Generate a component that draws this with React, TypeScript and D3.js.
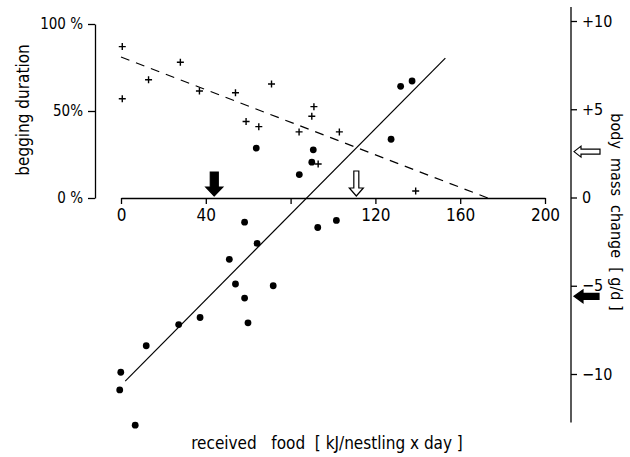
import React, { useEffect, useRef } from 'react';
import * as d3 from 'd3';

// begging duration (%) vs received food (kJ/nestling x day)
const beggingFood = [0.6, 0.6, 13, 28, 37, 54, 71, 59, 65, 84, 91, 90, 93, 103, 139];
const beggingPct = [87, 57, 68, 78, 61.5, 60.5, 65.5, 44, 41, 38, 52.5, 47, 19.5, 38, 4];

// body mass change (g/d) vs received food
const massFood = [63.8, 90.7, 90, 84.1, 131.9, 137.3, 127.4, 58.3, 92.8, 101.6, 64.2, 51.1, 54, 71.8, 58.3, 59.9, 37.3, 27.2, 11.9, -0.1, -0.6, 6.7];
const massChange = [2.8, 2.7, 2.0, 1.3, 6.3, 6.6, 3.3, -1.4, -1.7, -1.3, -2.6, -3.5, -4.9, -5.0, -5.7, -7.1, -6.8, -7.2, -8.4, -9.9, -10.9, -12.9];

// regression lines [food, value]
const beggingFit = [[0, 81], [173, 0]];
const massFit = [[2, -10.4], [153, 7.9]];

const xTicks = [0, 40, 80, 120, 160, 200];
const xTickLabels = ['0', '40', '', '120', '160', '200'];
const leftTicks = [0, 50, 100];
const leftTickLabels = ['0 %', '50%', '100 %'];
const rightTicks = [-10, -5, 0, 5, 10];
const rightTickLabels = ['\u221210', '\u22125', '0', '+5', '+10'];
const rightAxisExtent = [-12.75, 10.8];

// arrows: food value on x axis, mass value on right axis
const foodArrows = [{ value: 44, fill: '#000' }, { value: 111, fill: '#fff' }];
const massArrows = [{ value: 2.6, fill: '#fff' }, { value: -5.6, fill: '#000' }];

const FONT = "'DejaVu Sans Condensed', 'DejaVu Sans', sans-serif";

export default function App() {
  const ref = useRef<SVGSVGElement>(null);

  useEffect(() => {
    const svg = d3.select(ref.current);
    svg.selectAll('*').remove();

    const x = d3.scaleLinear().domain([0, 200]).range([121, 545]);
    const yL = d3.scaleLinear().domain([0, 100]).range([198, 24]);
    const yR = d3.scaleLinear().domain([-10, 10]).range([374, 21]);

    const axisX = 95, axisR = 571;

    // left axis
    const left = svg.append('g')
      .attr('transform', `translate(${axisX},0)`)
      .call(d3.axisLeft(yL).tickValues(leftTicks).tickSize(7).tickSizeOuter(0).tickPadding(5)
        .tickFormat((d, i) => leftTickLabels[i]));

    // bottom axis
    const bottom = svg.append('g')
      .attr('transform', `translate(0,${yL(0)})`)
      .call(d3.axisBottom(x).tickValues(xTicks).tickSize(6).tickSizeOuter(0).tickPadding(5)
        .tickFormat((d, i) => xTickLabels[i]));

    // right axis
    const right = svg.append('g')
      .attr('transform', `translate(${axisR},0)`)
      .call(d3.axisRight(yR).tickValues(rightTicks).tickSize(6).tickSizeOuter(0).tickPadding(5)
        .tickFormat((d, i) => rightTickLabels[i]));
    right.select('.domain').remove();
    right.append('line')
      .attr('y1', yR(rightAxisExtent[0])).attr('y2', yR(rightAxisExtent[1]))
      .attr('stroke', '#000');

    [left, bottom, right].forEach(g => {
      g.selectAll('path, line').attr('stroke', '#000').attr('stroke-width', 1.3);
      g.selectAll('text').attr('font-family', FONT).attr('fill', '#000');
    });
    left.selectAll('text').attr('font-size', 15);
    right.selectAll('text').attr('font-size', 16);
    bottom.selectAll('text').attr('font-size', 17);

    // regression lines
    const line = d3.line();
    svg.append('path')
      .attr('d', line(beggingFit.map(d => [x(d[0]), yL(d[1])]) as [number, number][]))
      .attr('fill', 'none').attr('stroke', '#000').attr('stroke-width', 1.2)
      .attr('stroke-dasharray', '9,7');
    svg.append('path')
      .attr('d', line(massFit.map(d => [x(d[0]), yR(d[1])]) as [number, number][]))
      .attr('fill', 'none').attr('stroke', '#000').attr('stroke-width', 1.2);

    // plus markers
    svg.append('g').selectAll('path')
      .data(beggingFood)
      .enter()
      .append('path')
        .attr('d', 'M-3.5,0H3.5M0,-3.5V3.5')
        .attr('transform', (d, i) => `translate(${x(d)},${yL(beggingPct[i])})`)
        .attr('stroke', '#000').attr('stroke-width', 1.4).attr('fill', 'none');

    // dots
    svg.append('g').selectAll('circle')
      .data(massFood)
      .enter()
      .append('circle')
        .attr('cx', d => x(d))
        .attr('cy', (d, i) => yR(massChange[i]))
        .attr('r', 3.4)
        .attr('fill', '#000');

    // down arrows on the food axis
    svg.append('g').selectAll('path')
      .data(foodArrows)
      .enter()
      .append('path')
        .attr('d', d => d.fill === '#000'
          ? 'M0,0L-8.5,-9L-4,-9L-4,-24L4,-24L4,-9L8.5,-9Z'
          : 'M0,0L-7,-8L-2.5,-8L-2.5,-25L2.5,-25L2.5,-8L7,-8Z')
        .attr('transform', d => `translate(${x(d.value)},${yL(0) - 2})`)
        .attr('fill', d => d.fill).attr('stroke', '#000').attr('stroke-width', 1.2);

    // left arrows on the mass axis
    svg.append('g').selectAll('path')
      .data(massArrows)
      .enter()
      .append('path')
        .attr('d', d => d.fill === '#000'
          ? 'M0,0L9,-6.5L9,-3L25,-3L25,3L9,3L9,6.5Z'
          : 'M0,0L7,-5.5L7,-2.5L26,-2.5L26,2.5L7,2.5L7,5.5Z')
        .attr('transform', d => `translate(${axisR + 3},${yR(d.value)})`)
        .attr('fill', d => d.fill).attr('stroke', '#000').attr('stroke-width', 1.2);

    // axis titles
    svg.append('text')
      .attr('transform', 'translate(29,110) rotate(-90)')
      .attr('text-anchor', 'middle')
      .attr('font-family', FONT).attr('font-size', 17)
      .text('begging duration');

    svg.append('text')
      .attr('transform', 'translate(611,212) rotate(90)')
      .attr('text-anchor', 'middle')
      .attr('font-family', FONT).attr('font-size', 16)
      .style('white-space', 'pre')
      .text('body  mass  change  [ g/d ]');

    svg.append('text')
      .attr('x', 327).attr('y', 449)
      .attr('text-anchor', 'middle')
      .attr('font-family', FONT).attr('font-size', 17)
      .style('white-space', 'pre')
      .text('received   food  [ kJ/nestling x day ]');
  }, []);

  return (
    <div style={{ position: 'absolute', left: 0, top: 0 }}>
      <svg ref={ref} width={630} height={457} style={{ display: 'block', background: '#fff' }} />
    </div>
  );
}
